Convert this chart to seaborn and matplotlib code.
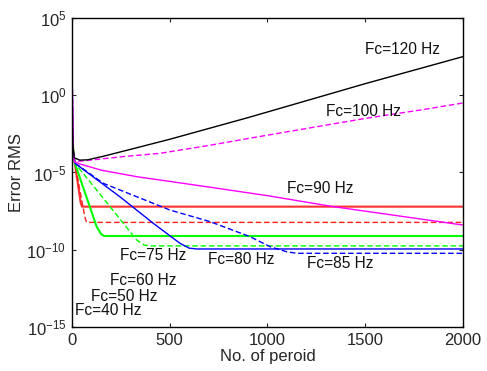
import numpy as np
import pandas as pd
import matplotlib
matplotlib.use("Agg")
import matplotlib.pyplot as plt
import seaborn as sns

# ---- data (x = period, values given as log10 of RMS error) ----
p_120 = [2, 6, 12, 40, 80, 160, 300, 500, 700, 900, 1200, 1500, 1800, 2000]
e_120 = [-2.0, -3.5, -4.05, -4.2, -4.18, -3.95, -3.5, -2.85, -2.15, -1.45, -0.35, 0.75, 1.8, 2.5]

p_100 = [2, 6, 12, 58, 262, 450, 700, 910, 1200, 1500, 1800, 2000]
e_100 = [0.3, -3.5, -4.3, -4.25, -3.97, -3.76, -3.25, -2.78, -2.15, -1.5, -0.92, -0.5]

p_90 = [2, 6, 12, 41, 150, 331, 689, 1000, 1337, 2000]
e_90 = [0.47, -3.5, -4.3, -4.45, -4.85, -5.27, -5.92, -6.5, -7.21, -8.4]

p_85 = [2, 6, 15, 41, 160, 501, 706, 910, 1013, 1098, 1150, 2000]
e_85 = [0.4, -3.5, -4.4, -4.62, -5.7, -7.43, -8.18, -9.15, -9.8, -10.13, -10.23, -10.23]

p_80 = [2, 6, 15, 245, 416, 552, 600, 640, 2000]
e_80 = [-0.5, -3.5, -4.4, -6.57, -8.29, -9.58, -9.9, -9.95, -9.95]

p_75 = [2, 6, 15, 194, 331, 370, 400, 2000]
e_75 = [-1.0, -3.5, -4.4, -7.2, -9.37, -9.7, -9.75, -9.75]

p_60 = [2, 6, 12, 126, 150, 165, 2000]
e_60 = [-1.5, -3.5, -4.3, -8.5, -9.0, -9.11, -9.11]

p_50 = [2, 6, 12, 66, 75, 2000]
e_50 = [-2.0, -3.5, -4.2, -7.9, -8.23, -8.23]

p_40 = [2, 6, 12, 45, 52, 2000]
e_40 = [-2.5, -3.5, -4.2, -7.0, -7.21, -7.21]

series_names = ["120", "100", "90", "85", "80", "75", "60", "50", "40"]
series_periods = [p_120, p_100, p_90, p_85, p_80, p_75, p_60, p_50, p_40]
series_logs = [e_120, e_100, e_90, e_85, e_80, e_75, e_60, e_50, e_40]

labels = ["Fc=120 Hz", "Fc=100 Hz", "Fc=90 Hz", "Fc=75 Hz", "Fc=80 Hz",
          "Fc=85 Hz", "Fc=60 Hz", "Fc=50 Hz", "Fc=40 Hz"]
label_x = [1499, 1299, 1098, 245, 697, 1200, 194, 96, 15]
label_logy = [2.97, -1.06, -6.02, -10.4, -10.62, -10.88, -12.0, -13.04, -13.96]

x_ticks = [0, 500, 1000, 1500, 2000]
y_tick_exp = [-15, -10, -5, 0, 5]

# ---- styling ----
styles = {
    "120": dict(color="#000000", dash=False, lw=1.0),
    "100": dict(color="#ff00ff", dash=True, lw=1.0),
    "90": dict(color="#ff00ff", dash=False, lw=1.0),
    "85": dict(color="#0000ff", dash=True, lw=1.0),
    "80": dict(color="#0000ff", dash=False, lw=1.0),
    "75": dict(color="#00ff00", dash=True, lw=1.0),
    "60": dict(color="#00ff00", dash=False, lw=1.5),
    "50": dict(color="#ff2020", dash=True, lw=1.0),
    "40": dict(color="#ff3030", dash=False, lw=1.5),
}

sns.set_style("ticks")
plt.rcParams["font.family"] = ["Liberation Sans", "DejaVu Sans"]
plt.rcParams["mathtext.fontset"] = "custom"
plt.rcParams["mathtext.rm"] = "Liberation Sans"
plt.rcParams["mathtext.it"] = "Liberation Sans:italic"
plt.rcParams["mathtext.bf"] = "Liberation Sans:bold"

fig = plt.figure(figsize=(4.87, 3.71), dpi=100)
ax = fig.add_axes([0.1478, 0.1186, 0.8029, 0.8329])

rows = []
for name, pp, ee in zip(series_names, series_periods, series_logs):
    for p, e in zip(pp, ee):
        rows.append({"period": p, "err": 10.0 ** e, "fc": name})
df = pd.DataFrame(rows)

# draw lower curves first, black on top
for name in series_names[::-1]:
    st = styles[name]
    sub = df[df["fc"] == name]
    sns.lineplot(data=sub, x="period", y="err", ax=ax, color=st["color"],
                 lw=st["lw"], estimator=None, sort=False, legend=False)
    l = ax.lines[-1]
    if st["dash"]:
        l.set_dashes((4, 2))

ax.set_yscale("log")
ax.set_xlim(0, 2000)
ax.set_ylim(1e-15, 1e5)
ax.set_xticks(x_ticks)
ax.set_xticklabels([str(t) for t in x_ticks])
ax.set_yticks([10.0 ** e for e in y_tick_exp])
ax.set_yticklabels([r"$10^{%d}$" % e for e in y_tick_exp])
ax.yaxis.set_minor_locator(matplotlib.ticker.NullLocator())
ax.tick_params(axis="both", which="major", direction="in", length=3, width=0.8,
               labelsize=12, top=True, right=True, pad=4)
for s in ax.spines.values():
    s.set_visible(True)
    s.set_color("black")
    s.set_linewidth(1.0)

for t, x, y in zip(labels, label_x, label_logy):
    ax.text(x, 10.0 ** y, t, fontsize=11.2, ha="left", va="center", color="#111111")

ax.set_xlabel("No. of peroid", fontsize=12, labelpad=1)
ax.set_ylabel("Error RMS", fontsize=12, labelpad=2)

fig.savefig("out.png", dpi=100)
